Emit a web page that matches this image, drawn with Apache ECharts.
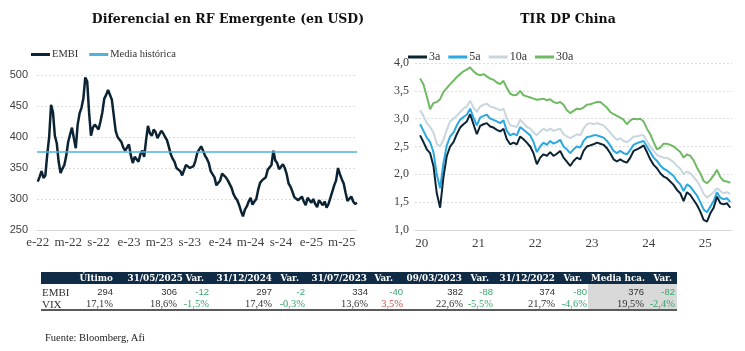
<!DOCTYPE html>
<html>
<head>
<meta charset="utf-8">
<script src="https://cdn.jsdelivr.net/npm/echarts@6/dist/echarts.min.js"></script>
<style>
  body { margin: 0; background: #fff; }
  #wrap { position: relative; width: 745px; height: 351px; overflow: hidden; }
  #chart { position: absolute; left: 0; top: 0; width: 745px; height: 351px; }
  .cell { position: absolute; white-space: nowrap; text-align: right; line-height: 12px; }
</style>
</head>
<body>
<div id="wrap">
  <div id="chart"></div>
  <div id="table"></div>
</div>
<script>
// EMBI diferencial, weekly-ish steps from January 2022 (x = months since e-22)
const embiStart = 0
const embiStep = 0.25
const embiValues = [
  328, 336, 345, 334, 338, 372, 400, 452, 440, 402, 390, 360, 342, 349, 355, 370,
  392, 404, 415, 398, 382, 420, 438, 447, 462, 496, 490, 440, 402, 415, 420, 422,
  412, 425, 440, 462, 468, 476, 474, 460, 435, 410, 400, 398, 392, 383, 378, 380,
  388, 370, 358, 368, 365, 360, 372, 378, 368, 395, 418, 406, 402, 412, 408, 398,
  404, 410, 406, 400, 395, 384, 372, 365, 360, 350, 348, 345, 338, 340, 355, 356,
  350, 348, 353, 362, 375, 380, 385, 378, 370, 365, 358, 345, 342, 335, 322, 320,
  330, 341, 338, 335, 330, 332, 318, 308, 302, 298, 290, 280, 272, 283, 288, 296,
  302, 291, 296, 300, 315, 326, 330, 328, 335, 347, 350, 355, 378, 362, 358, 348,
  352, 356, 350, 340, 325, 320, 312, 303, 302, 298, 300, 304, 296, 290, 302, 298,
  294, 300, 292, 287, 298, 294, 290, 296, 286, 292, 302, 304, 322, 330, 350, 340,
  332, 325, 310, 297, 300, 304, 296, 292, 294
]
const mediaHistorica = 376
const embiTicks = [0, 4, 8, 12, 16, 20, 24, 28, 32, 36, 40]
const monthLetters = ['e', 'f', 'm', 'a', 'm', 'j', 'j', 'a', 's', 'o', 'n', 'd']

// TIR deuda publica China (x = years since 2020)
const cnStart = -0.03
const cnStep = 10 / 170
const y3 = [
  2.70, 2.58, 2.45, 2.38, 2.15, 1.66, 1.40, 1.95, 2.33, 2.50, 2.58, 2.72, 2.84, 2.90, 2.95, 3.08,
  2.90, 2.72, 2.87, 2.90, 2.92, 2.86, 2.84, 2.80, 2.77, 2.82, 2.63, 2.54, 2.57, 2.54, 2.68, 2.63,
  2.57, 2.50, 2.38, 2.18, 2.30, 2.36, 2.33, 2.40, 2.33, 2.37, 2.42, 2.30, 2.23, 2.15, 2.24, 2.30,
  2.27, 2.42, 2.50, 2.52, 2.54, 2.57, 2.55, 2.53, 2.47, 2.38, 2.27, 2.23, 2.27, 2.23, 2.21, 2.30,
  2.42, 2.45, 2.48, 2.52, 2.40, 2.27, 2.17, 2.11, 2.02, 1.96, 1.93, 1.87, 1.81, 1.72, 1.66, 1.52,
  1.68, 1.63, 1.54, 1.45, 1.33, 1.18, 1.15, 1.30, 1.40, 1.60, 1.48, 1.46, 1.48, 1.40
]
const y5 = [
  2.90, 2.78, 2.66, 2.58, 2.40, 2.00, 1.75, 2.20, 2.52, 2.68, 2.75, 2.88, 2.98, 3.03, 3.07, 3.18,
  3.02, 2.88, 3.02, 3.05, 3.07, 3.00, 2.98, 2.95, 2.92, 2.97, 2.78, 2.70, 2.73, 2.70, 2.85, 2.80,
  2.75, 2.70, 2.58, 2.40, 2.50, 2.57, 2.53, 2.60, 2.55, 2.58, 2.62, 2.50, 2.45, 2.38, 2.45, 2.50,
  2.48, 2.60, 2.67, 2.68, 2.70, 2.70, 2.68, 2.66, 2.60, 2.52, 2.42, 2.38, 2.42, 2.38, 2.36, 2.44,
  2.53, 2.56, 2.58, 2.60, 2.50, 2.40, 2.30, 2.24, 2.16, 2.10, 2.07, 2.02, 1.97, 1.88, 1.82, 1.70,
  1.82, 1.78, 1.70, 1.62, 1.50, 1.37, 1.32, 1.42, 1.52, 1.68, 1.58, 1.55, 1.57, 1.50
]
const y10 = [
  3.15, 3.05, 2.92, 2.85, 2.75, 2.55, 2.50, 2.62, 2.80, 2.95, 3.00, 3.05, 3.12, 3.18, 3.22, 3.32,
  3.20, 3.12, 3.22, 3.25, 3.27, 3.22, 3.20, 3.18, 3.15, 3.18, 3.00, 2.88, 2.87, 2.85, 2.98, 2.92,
  2.85, 2.82, 2.75, 2.70, 2.77, 2.82, 2.78, 2.82, 2.78, 2.80, 2.82, 2.72, 2.68, 2.65, 2.68, 2.72,
  2.70, 2.82, 2.90, 2.92, 2.90, 2.92, 2.90, 2.88, 2.82, 2.75, 2.68, 2.62, 2.65, 2.60, 2.58, 2.62,
  2.68, 2.68, 2.70, 2.70, 2.60, 2.50, 2.42, 2.35, 2.32, 2.30, 2.30, 2.26, 2.22, 2.15, 2.10, 2.00,
  2.05, 2.02, 1.95, 1.88, 1.78, 1.65, 1.58, 1.63, 1.68, 1.75, 1.70, 1.66, 1.68, 1.65
]
const y30 = [
  3.72, 3.62, 3.40, 3.17, 3.28, 3.30, 3.35, 3.48, 3.55, 3.62, 3.68, 3.75, 3.80, 3.85, 3.88, 3.92,
  3.85, 3.80, 3.78, 3.80, 3.76, 3.72, 3.70, 3.65, 3.62, 3.68, 3.55, 3.45, 3.42, 3.43, 3.50, 3.42,
  3.40, 3.38, 3.36, 3.34, 3.35, 3.36, 3.33, 3.35, 3.30, 3.28, 3.30, 3.25, 3.15, 3.10, 3.14, 3.18,
  3.17, 3.20, 3.25, 3.26, 3.28, 3.30, 3.30, 3.25, 3.20, 3.12, 3.08, 3.05, 3.02, 2.98, 2.90, 2.97,
  3.00, 2.99, 3.00, 2.95, 2.82, 2.72, 2.58, 2.45, 2.48, 2.55, 2.55, 2.53, 2.50, 2.45, 2.40, 2.30,
  2.36, 2.33, 2.25, 2.12, 2.02, 1.88, 1.84, 1.90, 1.98, 2.08, 1.95, 1.88, 1.87, 1.85
]
const cnTicks = [0, 1, 2, 3, 4, 5]

// tabla
const tableHeaders = ['Último', '31/05/2025', 'Var.', '31/12/2024', 'Var.', '31/07/2023', 'Var.',
  '09/03/2023', 'Var.', '31/12/2022', 'Var.', 'Media hca.', 'Var.']
const embiRow = ['294', '306', '-12', '297', '-2', '334', '-40', '382', '-88', '374', '-80', '376', '-82']
const vixRow = ['17,1%', '18,6%', '-1,5%', '17,4%', '-0,3%', '13,6%', '3,5%', '22,6%', '-5,5%', '21,7%', '-4,6%', '19,5%', '-2,4%']
const rowLabels = ['EMBI', 'VIX']

function pts(start, step, arr) {
  return arr.map((v, i) => [start + i * step, v])
}

const serif = 'Liberation Serif'
const axisText = '#404040'

let chart = echarts.init(document.getElementById('chart'))
let option = {
  animation: false,
  backgroundColor: '#fff',
  title: [
    {
      text: 'Diferencial en RF Emergente (en USD)',
      left: 223, top: 8, textAlign: 'center',
      textStyle: { fontFamily: 'DejaVu Serif', fontWeight: 'bold', fontSize: 12.5, color: '#111' }
    },
    {
      text: 'TIR DP China',
      left: 563, top: 8, textAlign: 'center',
      textStyle: { fontFamily: 'DejaVu Serif', fontWeight: 'bold', fontSize: 12.5, color: '#111' }
    }
  ],
  legend: [
    {
      data: ['EMBI', 'Media histórica'],
      left: 26, top: 44,
      icon: 'rect', itemWidth: 19, itemHeight: 3, itemGap: 11,
      textStyle: { fontFamily: serif, fontSize: 10.5, color: '#333', padding: [0, 0, 0, -3] }
    },
    {
      data: ['3a', '5a', '10a', '30a'],
      left: 403, top: 46,
      icon: 'rect', itemWidth: 19, itemHeight: 3, itemGap: 8,
      textStyle: { fontFamily: serif, fontSize: 12, color: '#333', padding: [0, 0, 0, -3] }
    }
  ],
  grid: [
    { left: 37, right: 388, top: 75, bottom: 121 },
    { left: 415, right: 13, top: 63, bottom: 121 }
  ],
  xAxis: [
    {
      gridIndex: 0, type: 'value', min: -0.1, max: 42,
      axisLine: { show: true, lineStyle: { color: '#d9d9d9' } },
      axisTick: { show: false },
      splitLine: { show: false },
      axisLabel: {
        customValues: embiTicks, margin: 6,
        fontFamily: serif, fontSize: 13, color: axisText,
        formatter: function (v) {
          let m = Math.round(v)
          return monthLetters[m % 12] + '-' + (22 + Math.floor(m / 12))
        }
      }
    },
    {
      gridIndex: 1, type: 'value', min: -0.12, max: 5.47,
      axisLine: { show: true, lineStyle: { color: '#d9d9d9' } },
      axisTick: { show: false },
      splitLine: { show: false },
      axisLabel: {
        customValues: cnTicks, margin: 7,
        fontFamily: serif, fontSize: 13, color: axisText,
        formatter: function (v) { return String(20 + Math.round(v)) }
      }
    }
  ],
  yAxis: [
    {
      gridIndex: 0, type: 'value', min: 250, max: 500, interval: 50,
      axisLine: { show: false }, axisTick: { show: false },
      splitLine: { lineStyle: { color: '#dcdcdc', type: [2, 2] } },
      axisLabel: { fontFamily: 'Liberation Sans', fontSize: 11, color: axisText, margin: 9 }
    },
    {
      gridIndex: 1, type: 'value', min: 1, max: 4, interval: 0.5,
      axisLine: { show: false }, axisTick: { show: false },
      splitLine: { lineStyle: { color: '#dcdcdc', type: [2, 2] } },
      axisLabel: {
        fontFamily: serif, fontSize: 12, color: axisText, margin: 6,
        formatter: function (v) { return v.toFixed(1).replace('.', ',') }
      }
    }
  ],
  series: [
    {
      name: 'EMBI', type: 'line', xAxisIndex: 0, yAxisIndex: 0,
      showSymbol: false, z: 3,
      color: '#0c2333',
      lineStyle: { width: 2.5, color: '#0c2333' },
      data: pts(embiStart, embiStep, embiValues)
    },
    {
      name: 'Media histórica', type: 'line', xAxisIndex: 0, yAxisIndex: 0,
      showSymbol: false, z: 4,
      color: '#4db3d8',
      lineStyle: { width: 1.5, color: '#4db3d8' },
      data: [[-0.1, mediaHistorica], [42, mediaHistorica]]
    },
    {
      name: '3a', type: 'line', xAxisIndex: 1, yAxisIndex: 1,
      showSymbol: false, z: 6, color: '#0c2333',
      lineStyle: { width: 2, color: '#0c2333' },
      data: pts(cnStart, cnStep, y3)
    },
    {
      name: '5a', type: 'line', xAxisIndex: 1, yAxisIndex: 1,
      showSymbol: false, z: 5, color: '#2aa8df',
      lineStyle: { width: 2, color: '#2aa8df' },
      data: pts(cnStart, cnStep, y5)
    },
    {
      name: '10a', type: 'line', xAxisIndex: 1, yAxisIndex: 1,
      showSymbol: false, z: 4, color: '#c9d6dd',
      lineStyle: { width: 2, color: '#c9d6dd' },
      data: pts(cnStart, cnStep, y10)
    },
    {
      name: '30a', type: 'line', xAxisIndex: 1, yAxisIndex: 1,
      showSymbol: false, z: 3, color: '#6fba62',
      lineStyle: { width: 2, color: '#6fba62' },
      data: pts(cnStart, cnStep, y30)
    }
  ]
}
chart.setOption(option)

// table below the charts
const headRight = [113, 183, 204, 272, 299, 367, 393, 462, 489, 555, 582, 645, 672]
const cellRight = [113, 177, 209, 272, 305, 368, 403, 463, 493, 555, 587, 644, 675]
let html = ''
html += '<div style="position:absolute;left:41px;top:272px;width:636px;height:12px;background:#0f2b45"></div>'
html += '<div style="position:absolute;left:588px;top:284px;width:89px;height:25px;background:#d9d9d9"></div>'
html += '<div style="position:absolute;left:41px;top:309px;width:636px;height:2px;background:#5a5a5a"></div>'
tableHeaders.forEach((h, i) => {
  html += '<div class="cell" style="left:0;width:' + headRight[i] + 'px;top:272px;color:#fff;' +
    'font-family:\'DejaVu Serif\';font-weight:bold;font-size:8.8px">' + h + '</div>'
})
;[embiRow, vixRow].forEach((row, r) => {
  let top = r === 0 ? 286 : 298
  html += '<div class="cell" style="left:42px;text-align:left;top:' + top + 'px;color:#333;' +
    'font-family:\'Liberation Serif\';font-size:11px">' + rowLabels[r] + '</div>'
  row.forEach((v, i) => {
    let isVar = i % 2 === 0 && i > 0
    let color = '#333'
    if (isVar) color = v.charAt(0) === '-' ? '#3aa66c' : '#c0504d'
    let fam = r === 0 ? "'Liberation Sans'" : "'Liberation Serif'"
    let fs = r === 0 ? 9.5 : 10.5
    html += '<div class="cell" style="left:0;width:' + cellRight[i] + 'px;top:' + top + 'px;color:' + color +
      ';font-family:' + fam + ';font-size:' + fs + 'px">' + v + '</div>'
  })
})
html += '<div class="cell" style="left:45px;text-align:left;top:332px;color:#222;' +
  'font-family:\'Liberation Serif\';font-size:10.5px">Fuente: Bloomberg, Afi</div>'
document.getElementById('table').innerHTML = html

window.addEventListener('resize', function () {
  chart.resize()
})
</script>
</body>
</html>
